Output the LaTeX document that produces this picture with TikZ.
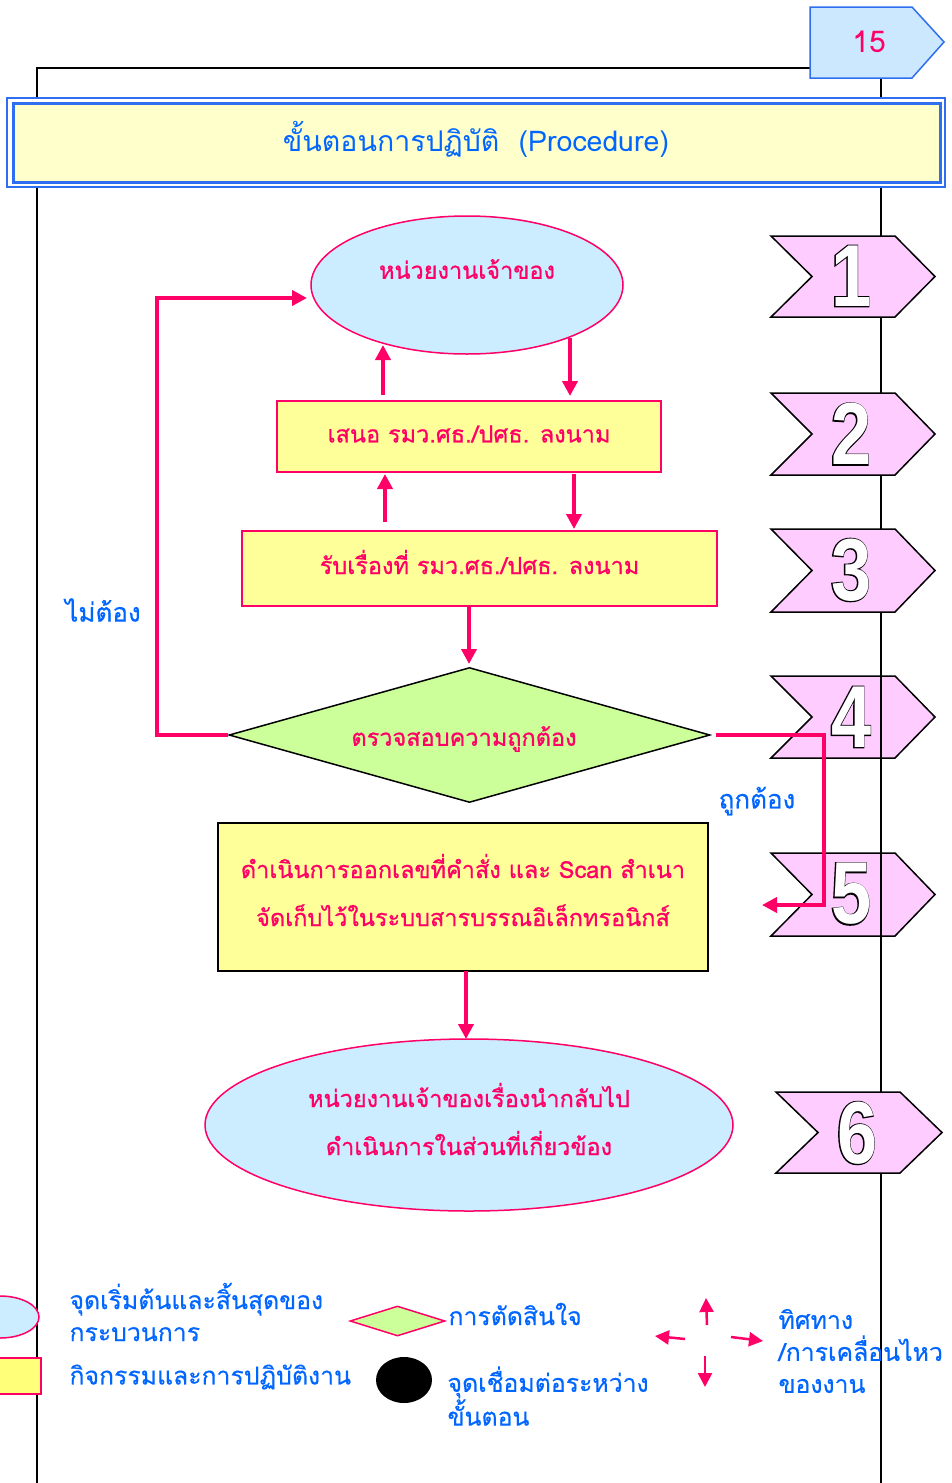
\documentclass[tikz,border=0pt]{standalone}
\usepackage{fontspec}
\usepackage{graphicx}
\usetikzlibrary{shapes.geometric,arrows.meta}
\newfontfamily\thai[Script=Thai]{Loma}
\newfontfamily\thaib[Script=Thai,FakeBold=0.8]{Loma}
\newfontfamily\thaim[Script=Thai,FakeBold=0.4]{Loma}
\newfontfamily\digitfont{Liberation Sans}
\newfontfamily\digitoutline[FakeBold=2.5]{Liberation Sans}
\definecolor{pk}{HTML}{FF0066}
\definecolor{bl}{HTML}{0066FF}
\definecolor{bord}{HTML}{2F6FEF}
\definecolor{lblue}{HTML}{CCECFF}
\definecolor{pnblue}{HTML}{CCE8FF}
\definecolor{yel}{HTML}{FFFF99}
\definecolor{lyel}{HTML}{FFFFCC}
\definecolor{grn}{HTML}{CCFF99}
\definecolor{chev}{HTML}{FFCCFF}
\newcommand\outdigit[1]{\rlap{\digitoutline\bfseries\textcolor{black}{#1}}\kern1.2pt\textcolor{white}{#1}}
\tikzset{
  flowtxt/.style={text=pk,font=\thaib\fontsize{23.5}{48}\selectfont,align=center},
  bluetxt/.style={text=bl,font=\thaim\fontsize{26}{32}\selectfont,align=left},
  legtxt/.style={text=bl,font=\thaim\fontsize{24.8}{32}\selectfont,align=left,anchor=west},
  ellbox/.style={ellipse,draw=pk,line width=1.5pt,fill=lblue,inner sep=0pt},
  recbox/.style={rectangle,draw=pk,line width=1.5pt,fill=yel,inner sep=0pt},
  flowarrow/.style={draw=pk,line width=4pt,-{Triangle[length=15pt,width=15pt]}},
  flowline/.style={draw=pk,line width=4pt},
  legarrow/.style={draw=pk,line width=2.5pt,-{Triangle[length=14pt,width=14pt]}},
  chevbox/.style={draw=black,line width=1.5pt,fill=chev,line join=miter},
  digit/.style={font=\digitfont\bfseries\fontsize{88}{88}\selectfont,inner sep=0pt},
  framel/.style={draw=black,line width=2pt}
}
\begin{document}
\begin{tikzpicture}[x=1pt,y=-1pt]
\useasboundingbox (0,0) rectangle (952,1483);
% chevrons 4 and 5 (frame line shows through them)
\foreach \n/\yt/\yb/\xa/\xn/\xs/\xt in {4/676/758/771/812/895/935,5/853/936/771/812/895/935}{
  \draw[chevbox] (\xa,\yt) -- (\xs,\yt) -- (\xt,{(\yt+\yb)/2}) -- (\xs,\yb) -- (\xa,\yb) -- (\xn,{(\yt+\yb)/2}) -- cycle;
}
% frame
\draw[framel] (37,1483) -- (37,68) -- (810,68);
\draw[framel] (881,78) -- (881,1483);
% chevrons 1,2,3,6
\foreach \n/\yt/\yb/\xa/\xn/\xs/\xt in {1/236/317/771/812/895/935,2/393/475/771/812/895/935,3/529/612/771/812/895/935,6/1092/1173/776/818/900/942}{
  \draw[chevbox] (\xa,\yt) -- (\xs,\yt) -- (\xt,{(\yt+\yb)/2}) -- (\xs,\yb) -- (\xa,\yb) -- (\xn,{(\yt+\yb)/2}) -- cycle;
}
% digits
\foreach \n/\x/\y in {1/851/276,2/851/434,3/851/570,4/851/717,5/851/894,6/857/1133}{
  \node[digit] (d\n) at (\x,\y) {\scalebox{0.82}[1]{\outdigit{\n}}};
}
% page number
\draw[draw=bord,line width=1.5pt,fill=pnblue] (810,7) -- (912,7) -- (944,42) -- (912,78) -- (810,78) -- cycle;
\node[text=pk,font=\thai\fontsize{30}{30}\selectfont] (pnum) at (869,42) {15};
% title
\draw[draw=bord,line width=2pt,fill=white] (7,98) rectangle (945,187);
\draw[draw=bord,line width=3pt,fill=lyel] (13,103) rectangle (940,182);
\node[text=bl,font=\thai\fontsize{28.5}{28}\selectfont] (title) at (476,139) {ขั้นตอนการปฏิบัติ\ \ (Procedure)};
% flow nodes
\node[ellbox,minimum width=312pt,minimum height=138pt] (e1) at (467,285) {};
\node[flowtxt] (e1t) at (467,269) {หน่วยงานเจ้าของ};
\node[recbox,minimum width=384pt,minimum height=71pt] (r2) at (469,436.5) {};
\node[flowtxt] (r2t) at (469,434) {เสนอ รมว.ศธ./ปศธ. ลงนาม};
\node[recbox,minimum width=475pt,minimum height=75pt] (r3) at (479.5,568.5) {};
\node[flowtxt] (r3t) at (479.5,562) {รับเรื่องที่ รมว.ศธ./ปศธ. ลงนาม};
\node[diamond,draw=black,line width=1.5pt,fill=grn,minimum width=481pt,minimum height=135pt,inner sep=0pt] (dm) at (469.5,735) {};
\node[flowtxt] (dmt) at (464,739) {ตรวจสอบความถูกต้อง};
\node[rectangle,draw=black,line width=2pt,fill=yel,minimum width=490pt,minimum height=148pt,inner sep=0pt] (r5) at (463,897) {};
\node[flowtxt] (r5t) at (463,890) {ดำเนินการออกเลขที่คำสั่ง และ Scan สำเนา\\จัดเก็บไว้ในระบบสารบรรณอิเล็กทรอนิกส์};
\node[ellbox,minimum width=528pt,minimum height=172pt] (e6) at (469,1125) {};
\node[flowtxt] (e6t) at (469,1119) {หน่วยงานเจ้าของเรื่องนำกลับไป\\ดำเนินการในส่วนที่เกี่ยวข้อง};
% arrows between flow nodes
\coordinate (a1) at (383,395);
\coordinate (a2) at (570,338);
\coordinate (a3) at (385,522);
\coordinate (a4) at (574,474);
\coordinate (a5) at (469,606);
\coordinate (a6) at (466,971);
\draw[flowarrow] (a1) -- (383,345);
\draw[flowarrow] (a2) -- (570,396);
\draw[flowarrow] (a3) -- (385,474);
\draw[flowarrow] (a4) -- (574,529);
\draw[flowarrow] (a5) -- (469,664);
\draw[flowarrow] (a6) -- (466,1039);
% no loop
\coordinate (nl1) at (157,735);
\coordinate (nl2) at (157,298);
\coordinate (nl3) at (307,298);
\draw[flowline,-{Triangle[length=15pt,width=15pt]}] (dm.west) -- (nl1) -- (nl2) -- (nl3);
\node[bluetxt] (no) at (103,610) {ไม่ต้อง};
% yes path
\coordinate (y1) at (716,735);
\coordinate (y2) at (824,735);
\coordinate (y3) at (824,905);
\coordinate (y4) at (762,905);
\draw[flowline,-{Triangle[length=15pt,width=15pt]}] (y1) -- (y2) -- (y3) -- (y4);
\node[bluetxt] (yes) at (757,801) {ถูกต้อง};
% legend
\node[ellipse,draw=pk,line width=1.5pt,fill=lblue,minimum width=78pt,minimum height=42pt,inner sep=0pt] (le) at (0,1317) {};
\node[rectangle,draw=pk,line width=1.5pt,fill=yel!80!yellow,minimum width=82pt,minimum height=36pt,inner sep=0pt] (lr) at (0,1376) {};
\node[legtxt] (lt1) at (66,1312) {จุดเริ่มต้นและสิ้นสุดของ\\กระบวนการ};
\node[legtxt] (lt2) at (66,1377) {กิจกรรมและการปฏิบัติงาน};
\node[diamond,draw=pk,line width=1.5pt,fill=grn,minimum width=95pt,minimum height=30pt,inner sep=0pt] (ld) at (397.5,1321) {};
\node[legtxt] (lt3) at (445,1314) {การตัดสินใจ};
\node[ellipse,fill=black,minimum width=56pt,minimum height=46pt,inner sep=0pt] (lc) at (404,1380) {};
\node[legtxt] (lt4) at (444,1396) {จุดเชื่อมต่อระหว่าง\\ขั้นตอน};
\coordinate (lau0) at (707,1325);
\coordinate (lau1) at (706,1298);
\coordinate (lal0) at (685,1339);
\coordinate (lal1) at (655,1336);
\coordinate (lar0) at (731,1337);
\coordinate (lar1) at (763,1341);
\coordinate (lad0) at (705,1356);
\coordinate (lad1) at (705,1387);
\draw[legarrow] (lau0) -- (lau1);
\draw[legarrow] (lal0) -- (lal1);
\draw[legarrow] (lar0) -- (lar1);
\draw[legarrow] (lad0) -- (lad1);
\node[legtxt] (lt5) at (775,1351) {ทิศทาง\\/การเคลื่อนไหว\\ของงาน};
\end{tikzpicture}
\end{document}
